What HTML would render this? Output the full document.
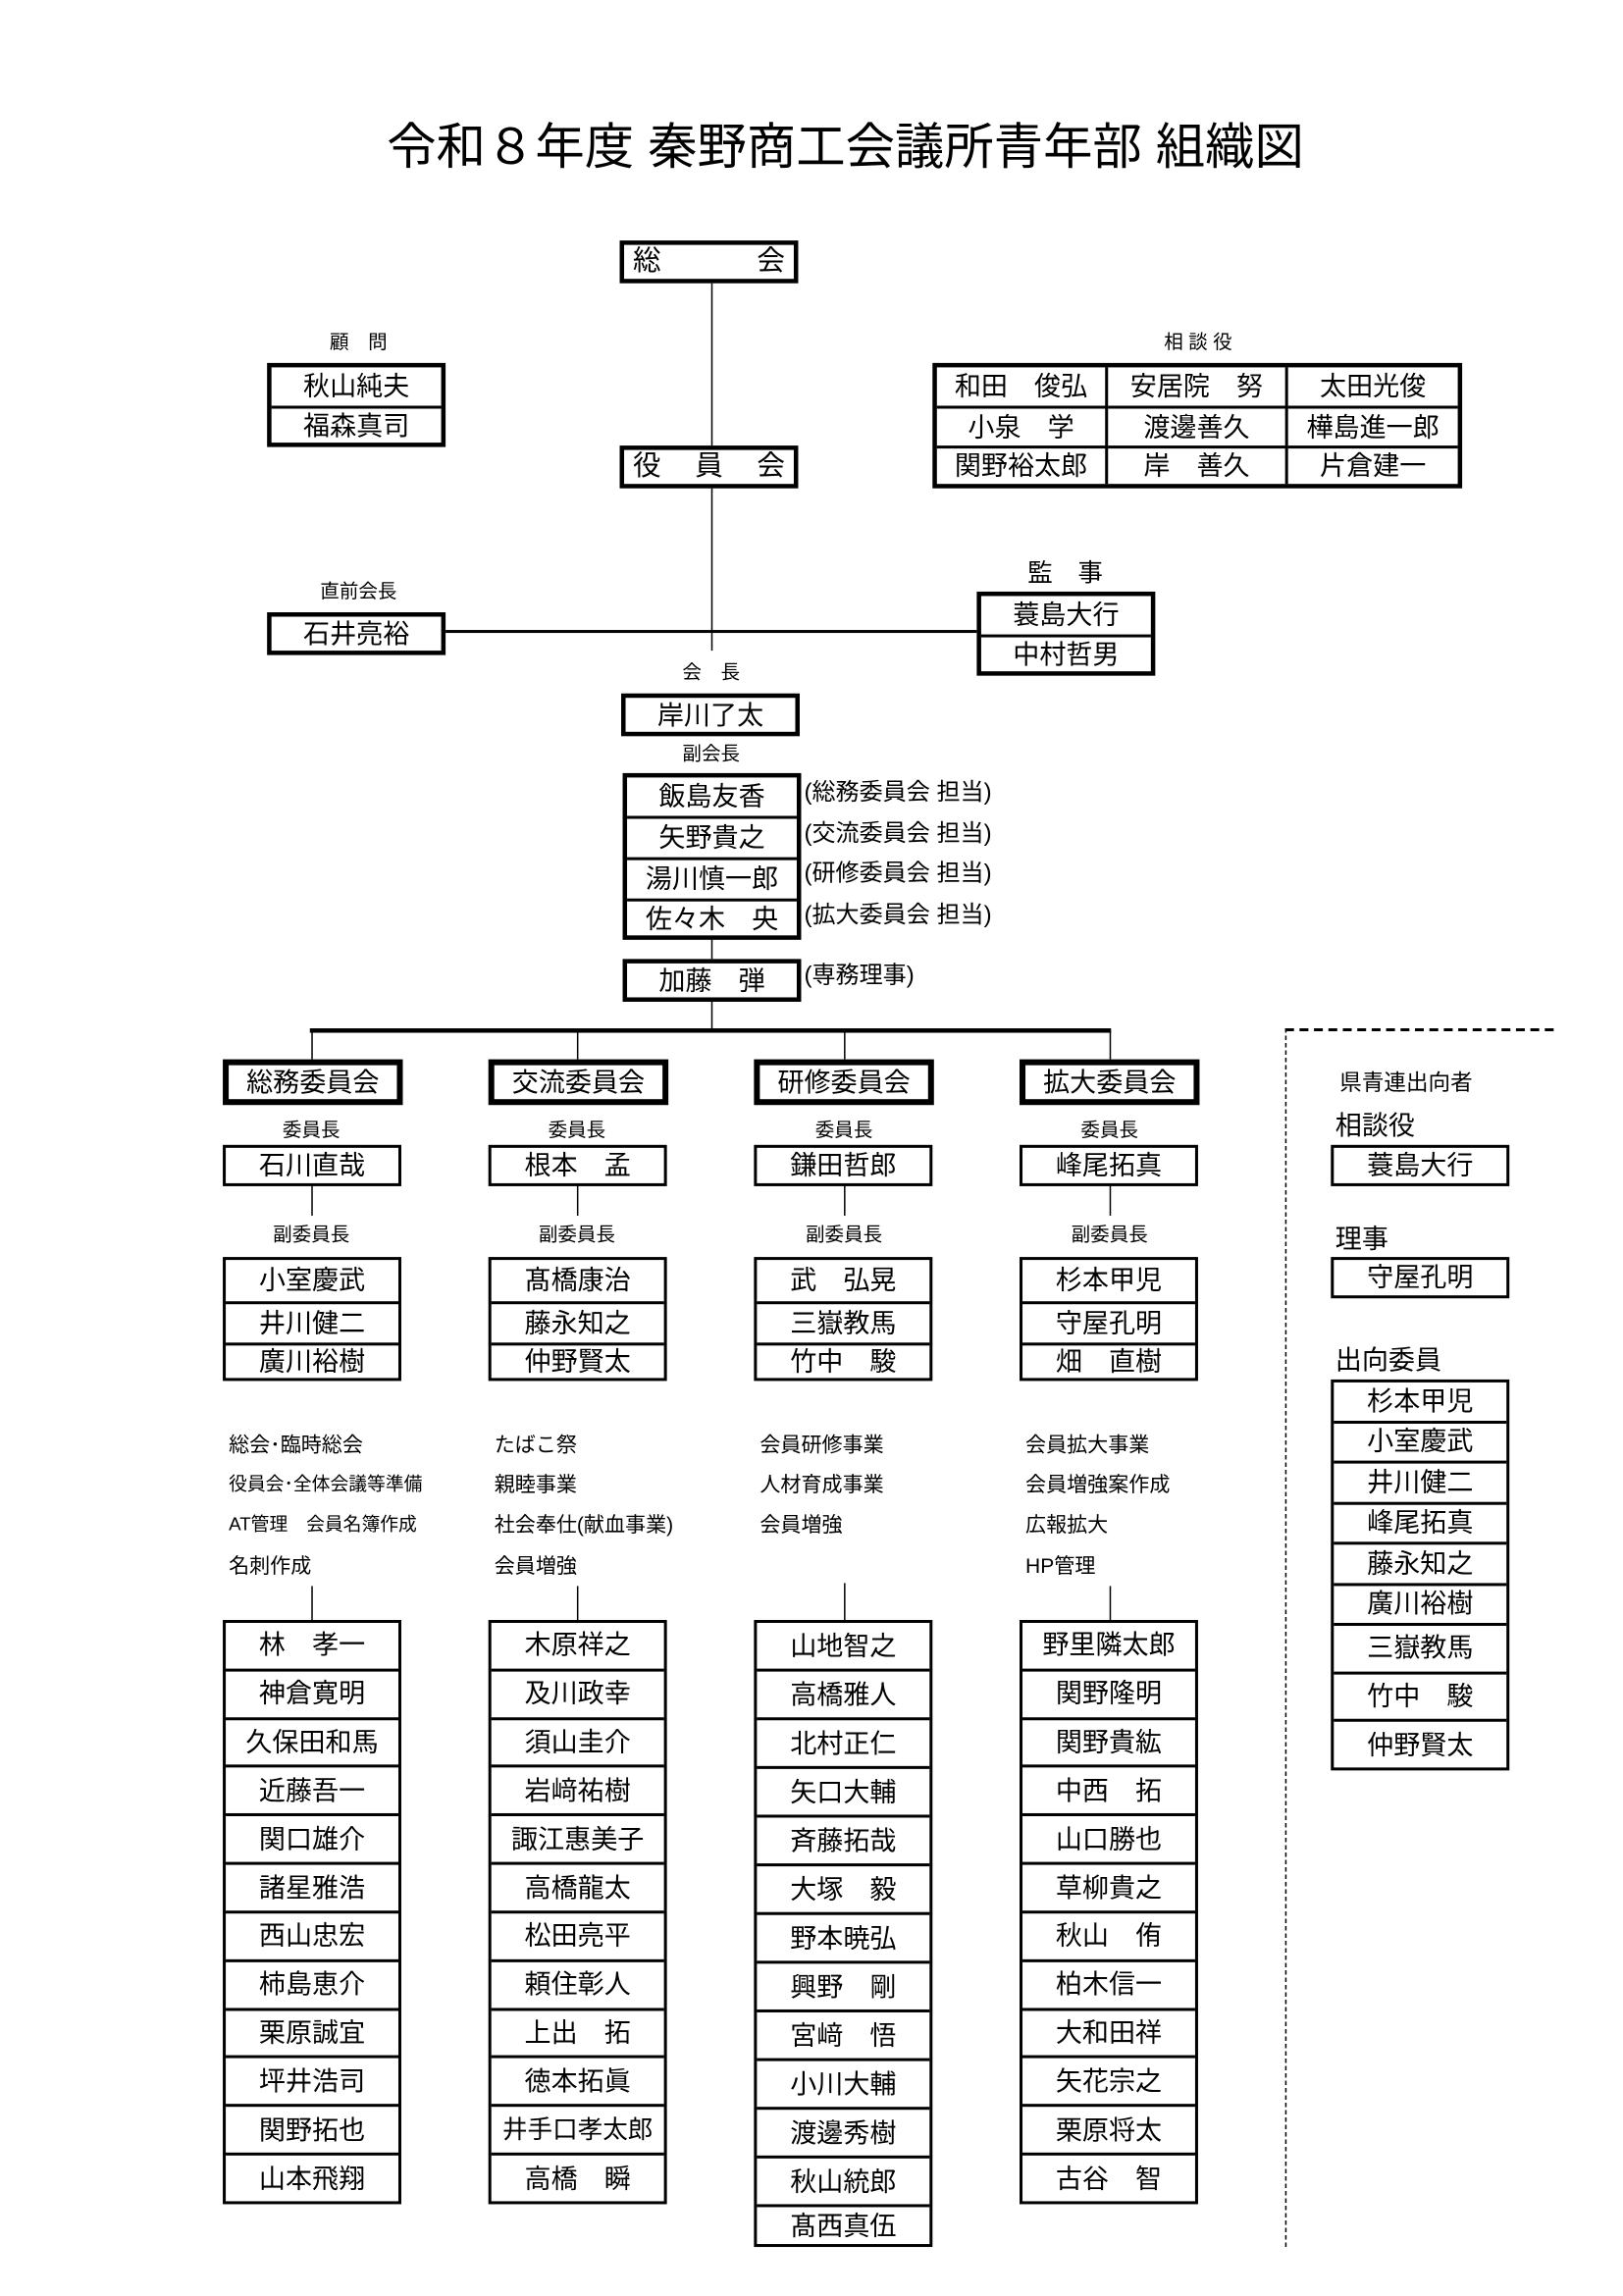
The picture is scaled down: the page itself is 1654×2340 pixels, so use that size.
<!DOCTYPE html>
<html><head><meta charset="utf-8"><style>
html,body{margin:0;padding:0;background:#fff;}
body{width:1654px;height:2339px;overflow:hidden;position:relative;}
#s{position:absolute;left:0;top:0;width:1100px;height:1556px;transform:scale(1.50364);transform-origin:0 0;font-family:"Liberation Sans","Noto Sans CJK JP",sans-serif;color:#000;}
.a{position:absolute;}
.b{position:absolute;border:2px solid #000;box-sizing:border-box;background:#fff;}
.r{display:flex;align-items:center;justify-content:center;font-size:18px;box-sizing:border-box;border-top:2px solid #000;line-height:1;white-space:nowrap;}
.r:first-child{border-top:none;}
.l{position:absolute;font-size:13px;transform:translateX(-50%);white-space:nowrap;line-height:1;}
.t{position:absolute;font-size:14px;white-space:nowrap;line-height:1;}
.v{position:absolute;width:1px;background:#000;}
.h{position:absolute;height:2px;background:#000;}
.k{border-width:4px;}
</style></head><body><div id="s">
<div class="a" style="left:0;width:1146px;top:84px;text-align:center;font-size:33.5px;line-height:1;">令和８年度 秦野商工会議所青年部 組織図</div>

<div class="v" style="left:482px;top:191px;height:250px;"></div>
<div class="h" style="left:301px;top:427px;width:361px;"></div>

<div class="b" style="left:420px;top:163px;width:121px;height:29px;border-width:3px;"><div class="r" style="height:23px;justify-content:space-between;padding:0 6px;font-size:19px;"><span>総</span><span>会</span></div></div>
<div class="b" style="left:420px;top:302px;width:121px;height:29px;border-width:3px;"><div class="r" style="height:23px;justify-content:space-between;padding:0 6px;font-size:19px;"><span>役</span><span>員</span><span>会</span></div></div>

<div class="l" style="left:243px;top:225px;">顧　問</div>
<div class="b" style="left:181px;top:246px;width:121px;height:57px;border-width:3px;"><div class="r" style="height:26px;">秋山純夫</div><div class="r" style="height:25px;">福森真司</div></div>

<div class="l" style="left:812px;top:225px;">相 談 役</div>
<div class="b" style="left:632px;top:246px;width:359px;height:85px;border-width:3px;display:grid;grid-template-columns:116px 122px 115px;grid-template-rows:26px 27px 26px;">
<div class="r" style="border-top:none;border-right:2px solid #000;">和田　俊弘</div><div class="r" style="border-top:none;border-right:2px solid #000;">安居院　努</div><div class="r" style="border-top:none;">太田光俊</div>
<div class="r" style="border-right:2px solid #000;">小泉　学</div><div class="r" style="border-right:2px solid #000;">渡邊善久</div><div class="r">樺島進一郎</div>
<div class="r" style="border-right:2px solid #000;">関野裕太郎</div><div class="r" style="border-right:2px solid #000;">岸　善久</div><div class="r">片倉建一</div>
</div>

<div class="l" style="left:243px;top:394px;">直前会長</div>
<div class="b" style="left:181px;top:415px;width:121px;height:29px;border-width:3px;"><div class="r" style="height:23px;">石井亮裕</div></div>

<div class="l" style="left:722px;top:380px;font-size:17px;">監　事</div>
<div class="b" style="left:662px;top:401px;width:121px;height:57px;border-width:3px;"><div class="r" style="height:26px;">蓑島大行</div><div class="r" style="height:25px;">中村哲男</div></div>

<div class="l" style="left:482px;top:449px;">会　長</div>
<div class="b" style="left:421px;top:470px;width:121px;height:29px;border-width:3px;"><div class="r" style="height:23px;">岸川了太</div></div>

<div class="l" style="left:482px;top:504px;">副会長</div>
<div class="b" style="left:422px;top:524px;width:121px;height:113px;border-width:3px;"><div class="r" style="height:26px;">飯島友香</div><div class="r" style="height:28px;">矢野貴之</div><div class="r" style="height:28px;">湯川慎一郎</div><div class="r" style="height:25px;">佐々木　央</div></div>
<div class="t" style="left:545px;top:530px;font-size:16px;">(総務委員会 担当)</div>
<div class="t" style="left:545px;top:558px;font-size:16px;">(交流委員会 担当)</div>
<div class="t" style="left:545px;top:585px;font-size:16px;">(研修委員会 担当)</div>
<div class="t" style="left:545px;top:613px;font-size:16px;">(拡大委員会 担当)</div>
<div class="v" style="left:482px;top:636px;height:14px;"></div>
<div class="b" style="left:422px;top:650px;width:121px;height:29px;border-width:3px;"><div class="r" style="height:23px;">加藤　弾</div></div>
<div class="t" style="left:545px;top:654px;font-size:16px;">(専務理事)</div>
<div class="v" style="left:482px;top:678px;height:20px;"></div>
<div class="h" style="left:210px;top:697px;width:543px;height:3px;"></div>
<div class="v" style="left:211px;top:698px;height:20px;"></div>
<div class="v" style="left:391px;top:698px;height:20px;"></div>
<div class="v" style="left:572px;top:698px;height:20px;"></div>
<div class="v" style="left:752px;top:698px;height:20px;"></div>

<div class="b k" style="left:151px;top:718px;width:122px;height:31px;"><div class="r" style="height:23px;">総務委員会</div></div>
<div class="b k" style="left:331px;top:718px;width:122px;height:31px;"><div class="r" style="height:23px;">交流委員会</div></div>
<div class="b k" style="left:511px;top:718px;width:122px;height:31px;"><div class="r" style="height:23px;">研修委員会</div></div>
<div class="b k" style="left:691px;top:718px;width:122px;height:31px;"><div class="r" style="height:23px;">拡大委員会</div></div>

<div class="l" style="left:211px;top:759px;">委員長</div><div class="l" style="left:391px;top:759px;">委員長</div><div class="l" style="left:572px;top:759px;">委員長</div><div class="l" style="left:752px;top:759px;">委員長</div>
<div class="b" style="left:151px;top:776px;width:121px;height:28px;"><div class="r" style="height:24px;">石川直哉</div></div>
<div class="b" style="left:331px;top:776px;width:121px;height:28px;"><div class="r" style="height:24px;">根本　孟</div></div>
<div class="b" style="left:511px;top:776px;width:121px;height:28px;"><div class="r" style="height:24px;">鎌田哲郎</div></div>
<div class="b" style="left:691px;top:776px;width:121px;height:28px;"><div class="r" style="height:24px;">峰尾拓真</div></div>
<div class="v" style="left:211px;top:803px;height:21px;"></div><div class="v" style="left:391px;top:803px;height:21px;"></div><div class="v" style="left:572px;top:803px;height:21px;"></div><div class="v" style="left:752px;top:803px;height:21px;"></div>
<div class="l" style="left:211px;top:830px;">副委員長</div><div class="l" style="left:391px;top:830px;">副委員長</div><div class="l" style="left:572px;top:830px;">副委員長</div><div class="l" style="left:752px;top:830px;">副委員長</div>

<div class="b" style="left:151px;top:852px;width:121px;height:84px;"><div class="r" style="height:28px;">小室慶武</div><div class="r" style="height:28px;">井川健二</div><div class="r" style="height:24px;">廣川裕樹</div></div>
<div class="b" style="left:331px;top:852px;width:121px;height:84px;"><div class="r" style="height:28px;">髙橋康治</div><div class="r" style="height:28px;">藤永知之</div><div class="r" style="height:24px;">仲野賢太</div></div>
<div class="b" style="left:511px;top:852px;width:121px;height:84px;"><div class="r" style="height:28px;">武　弘晃</div><div class="r" style="height:28px;">三嶽教馬</div><div class="r" style="height:24px;">竹中　駿</div></div>
<div class="b" style="left:691px;top:852px;width:121px;height:84px;"><div class="r" style="height:28px;">杉本甲児</div><div class="r" style="height:28px;">守屋孔明</div><div class="r" style="height:24px;">畑　直樹</div></div>

<div class="t" style="left:155px;top:972px;">総会･臨時総会</div>
<div class="t" style="left:155px;top:1000px;font-size:12.5px;">役員会･全体会議等準備</div>
<div class="t" style="left:155px;top:1027px;font-size:12.5px;">AT管理　会員名簿作成</div>
<div class="t" style="left:155px;top:1054px;">名刺作成</div>
<div class="t" style="left:335px;top:972px;">たばこ祭</div>
<div class="t" style="left:335px;top:999px;">親睦事業</div>
<div class="t" style="left:335px;top:1026px;">社会奉仕(献血事業)</div>
<div class="t" style="left:335px;top:1054px;">会員増強</div>
<div class="t" style="left:515px;top:972px;">会員研修事業</div>
<div class="t" style="left:515px;top:999px;">人材育成事業</div>
<div class="t" style="left:515px;top:1026px;">会員増強</div>
<div class="t" style="left:695px;top:972px;">会員拡大事業</div>
<div class="t" style="left:695px;top:999px;">会員増強案作成</div>
<div class="t" style="left:695px;top:1026px;">広報拡大</div>
<div class="t" style="left:695px;top:1054px;">HP管理</div>
<div class="v" style="left:211px;top:1075px;height:23px;"></div><div class="v" style="left:391px;top:1075px;height:23px;"></div><div class="v" style="left:572px;top:1073px;height:25px;"></div><div class="v" style="left:752px;top:1075px;height:23px;"></div>

<div class="b" style="left:151px;top:1098px;width:121px;height:396px;display:flex;flex-direction:column;">
<div class="r" style="flex:1;">林　孝一</div><div class="r" style="flex:1;">神倉寛明</div><div class="r" style="flex:1;">久保田和馬</div><div class="r" style="flex:1;">近藤吾一</div><div class="r" style="flex:1;">関口雄介</div><div class="r" style="flex:1;">諸星雅浩</div><div class="r" style="flex:1;">西山忠宏</div><div class="r" style="flex:1;">柿島恵介</div><div class="r" style="flex:1;">栗原誠宜</div><div class="r" style="flex:1;">坪井浩司</div><div class="r" style="flex:1;">関野拓也</div><div class="r" style="flex:1;">山本飛翔</div></div>
<div class="b" style="left:331px;top:1098px;width:121px;height:396px;display:flex;flex-direction:column;">
<div class="r" style="flex:1;">木原祥之</div><div class="r" style="flex:1;">及川政幸</div><div class="r" style="flex:1;">須山圭介</div><div class="r" style="flex:1;">岩﨑祐樹</div><div class="r" style="flex:1;">諏江惠美子</div><div class="r" style="flex:1;">高橋龍太</div><div class="r" style="flex:1;">松田亮平</div><div class="r" style="flex:1;">頼住彰人</div><div class="r" style="flex:1;">上出　拓</div><div class="r" style="flex:1;">徳本拓眞</div><div class="r" style="flex:1;font-size:17px;">井手口孝太郎</div><div class="r" style="flex:1;">高橋　瞬</div></div>
<div class="b" style="left:511px;top:1098px;width:121px;height:425px;display:flex;flex-direction:column;">
<div class="r" style="flex:1;">山地智之</div><div class="r" style="flex:1;">高橋雅人</div><div class="r" style="flex:1;">北村正仁</div><div class="r" style="flex:1;">矢口大輔</div><div class="r" style="flex:1;">斉藤拓哉</div><div class="r" style="flex:1;">大塚　毅</div><div class="r" style="flex:1;">野本暁弘</div><div class="r" style="flex:1;">興野　剛</div><div class="r" style="flex:1;">宮﨑　悟</div><div class="r" style="flex:1;">小川大輔</div><div class="r" style="flex:1;">渡邊秀樹</div><div class="r" style="flex:1;">秋山統郎</div><div class="r" style="flex:0 0 27px;">髙西真伍</div></div>
<div class="b" style="left:691px;top:1098px;width:121px;height:396px;display:flex;flex-direction:column;">
<div class="r" style="flex:1;">野里隣太郎</div><div class="r" style="flex:1;">関野隆明</div><div class="r" style="flex:1;">関野貴紘</div><div class="r" style="flex:1;">中西　拓</div><div class="r" style="flex:1;">山口勝也</div><div class="r" style="flex:1;">草柳貴之</div><div class="r" style="flex:1;">秋山　侑</div><div class="r" style="flex:1;">柏木信一</div><div class="r" style="flex:1;">大和田祥</div><div class="r" style="flex:1;">矢花宗之</div><div class="r" style="flex:1;">栗原将太</div><div class="r" style="flex:1;">古谷　智</div></div>

<div class="a" style="left:871px;top:697px;width:182px;border-top:2px dashed #000;"></div>
<div class="a" style="left:871px;top:697px;height:826px;border-left:1px dashed #000;"></div>
<div class="t" style="left:908px;top:727px;font-size:15px;">県青連出向者</div>
<div class="t" style="left:905px;top:754px;font-size:18px;">相談役</div>
<div class="b" style="left:902px;top:776px;width:121px;height:28px;"><div class="r" style="height:24px;">蓑島大行</div></div>
<div class="t" style="left:905px;top:831px;font-size:18px;">理事</div>
<div class="b" style="left:902px;top:852px;width:121px;height:28px;"><div class="r" style="height:24px;">守屋孔明</div></div>
<div class="t" style="left:905px;top:913px;font-size:18px;">出向委員</div>
<div class="b" style="left:902px;top:935px;width:121px;height:265px;display:flex;flex-direction:column;">
<div class="r" style="flex:1;">杉本甲児</div><div class="r" style="flex:1;">小室慶武</div><div class="r" style="flex:1;">井川健二</div><div class="r" style="flex:1;">峰尾拓真</div><div class="r" style="flex:1;">藤永知之</div><div class="r" style="flex:1;">廣川裕樹</div><div class="r" style="flex:1.2;">三嶽教馬</div><div class="r" style="flex:1.2;">竹中　駿</div><div class="r" style="flex:1.2;">仲野賢太</div></div>
</div></body></html>
